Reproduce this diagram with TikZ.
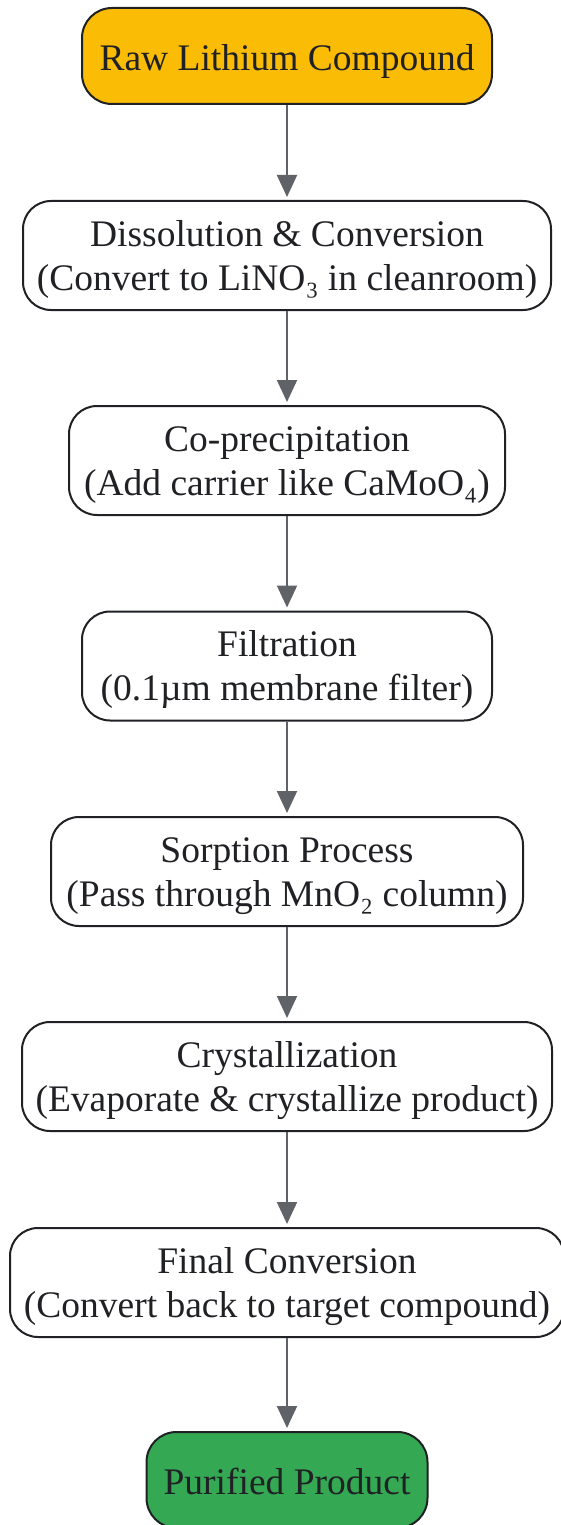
\documentclass[tikz,border=0pt]{standalone}
\usepackage{fontspec}
\setmainfont{Liberation Serif}
\usepackage{tikz}
\usetikzlibrary{arrows.meta,positioning}
\definecolor{rawyellow}{HTML}{FBBC05}
\definecolor{purgreen}{HTML}{34A853}
\definecolor{edgegray}{HTML}{5F6368}
\definecolor{inkdark}{HTML}{202124}
\tikzset{stepbox/.style={draw=inkdark,line width=2pt,rectangle,rounded corners=28pt,
        fill=white,text=inkdark,align=center,inner xsep=4pt,inner ysep=0pt,
        font=\fontsize{37.5}{44}\selectfont,minimum height=109pt,
        text height=79pt,text depth=10pt},
    endbox/.style={stepbox,minimum height=96pt,rounded corners=30pt,
        text height=39pt,text depth=10pt},
    flowarrow/.style={draw=edgegray,line width=2pt,-{Triangle[length=22pt,width=20pt]},shorten >=3pt}
}

\begin{document}
\begin{tikzpicture}[x=1pt,y=1pt]

\useasboundingbox (0,0) rectangle (561,-1525);

\node (raw) [endbox,fill=rawyellow,minimum width=410pt] at (287,-56) {Raw Lithium Compound};
\node (s 1) [stepbox,minimum width=528pt] at (287,-255.5) {Dissolution \& Conversion\\(Convert to LiNO₃ in cleanroom)};
\node (s 2) [stepbox,minimum width=436pt] at (287,-460.5) {Co-precipitation\\(Add carrier like CaMoO₄)};
\node (s 3) [stepbox,minimum width=410pt] at (287,-666) {Filtration\\(0.1µm membrane filter)};
\node (s 4) [stepbox,minimum width=472pt] at (287,-871.5) {Sorption Process\\(Pass through MnO₂ column)};
\node (s 5) [stepbox,minimum width=530pt] at (287,-1076.5) {Crystallization\\(Evaporate \& crystallize product)};
\node (s 6) [stepbox,minimum width=554pt] at (287,-1282.5) {Final Conversion\\(Convert back to target compound)};
\node (pure) [endbox,fill=purgreen,minimum width=281pt] at (287,-1480) {Purified Product};

\draw [flowarrow] (raw) -- (s 1);
\draw [flowarrow] (s 1) -- (s 2);
\draw [flowarrow] (s 2) -- (s 3);
\draw [flowarrow] (s 3) -- (s 4);
\draw [flowarrow] (s 4) -- (s 5);
\draw [flowarrow] (s 5) -- (s 6);
\draw [flowarrow] (s 6) -- (pure);

\end{tikzpicture}
\end{document}
